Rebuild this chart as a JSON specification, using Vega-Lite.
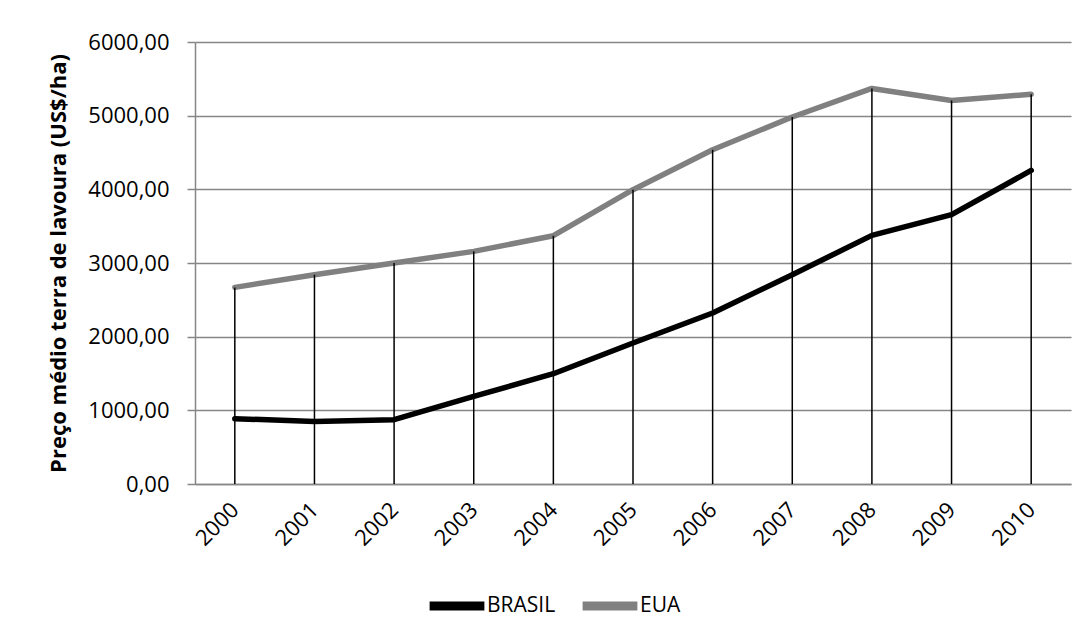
{
  "$schema": "https://vega.github.io/schema/vega-lite/v6.json",
  "width": 876,
  "height": 442,
  "autosize": "none",
  "padding": {"left": 195, "top": 42, "right": 21, "bottom": 152},
  "background": "white",
  "data": {
    "values": [
      {"year": "2000", "series": "BRASIL", "value": 886},
      {"year": "2001", "series": "BRASIL", "value": 850},
      {"year": "2002", "series": "BRASIL", "value": 873},
      {"year": "2003", "series": "BRASIL", "value": 1189},
      {"year": "2004", "series": "BRASIL", "value": 1497},
      {"year": "2005", "series": "BRASIL", "value": 1914},
      {"year": "2006", "series": "BRASIL", "value": 2321},
      {"year": "2007", "series": "BRASIL", "value": 2841},
      {"year": "2008", "series": "BRASIL", "value": 3375},
      {"year": "2009", "series": "BRASIL", "value": 3656},
      {"year": "2010", "series": "BRASIL", "value": 4257},
      {"year": "2000", "series": "EUA", "value": 2669},
      {"year": "2001", "series": "EUA", "value": 2841},
      {"year": "2002", "series": "EUA", "value": 3000},
      {"year": "2003", "series": "EUA", "value": 3158},
      {"year": "2004", "series": "EUA", "value": 3370},
      {"year": "2005", "series": "EUA", "value": 3995},
      {"year": "2006", "series": "EUA", "value": 4538},
      {"year": "2007", "series": "EUA", "value": 4982},
      {"year": "2008", "series": "EUA", "value": 5370},
      {"year": "2009", "series": "EUA", "value": 5207},
      {"year": "2010", "series": "EUA", "value": 5290}
    ]
  },
  "encoding": {
    "x": {
      "field": "year",
      "type": "ordinal",
      "scale": {"type": "point", "padding": 0.5},
      "axis": {
        "title": null,
        "labelAngle": -45,
        "labelFontSize": 22,
        "labelPadding": 22,
        "labelBaseline": "middle",
        "labelAlign": "right",
        "ticks": false,
        "grid": false,
        "domainColor": "#868686",
        "domainWidth": 1.5
      }
    }
  },
  "layer": [
    {
      "mark": {"type": "line", "strokeWidth": 5.5, "strokeCap": "round", "strokeJoin": "round"},
      "encoding": {
        "y": {
          "field": "value",
          "type": "quantitative",
          "scale": {"domain": [0, 6000], "nice": false},
          "axis": {
            "title": "Preço médio terra de lavoura (US$/ha)",
            "titleFontSize": 22,
            "titleFontWeight": "bold",
            "titlePadding": 17,
            "values": [0, 1000, 2000, 3000, 4000, 5000, 6000],
            "labelExpr": "replace(format(datum.value, '.2f'), '.', ',')",
            "labelFontSize": 22,
            "labelPadding": 18,
            "tickSize": 8,
            "tickColor": "#868686",
            "tickWidth": 1.5,
            "domainColor": "#868686",
            "domainWidth": 1.5,
            "grid": true,
            "gridColor": "#868686",
            "gridWidth": 1.5
          }
        },
        "color": {
          "field": "series",
          "type": "nominal",
          "scale": {"domain": ["BRASIL", "EUA"], "range": ["#000000", "#808080"]},
          "legend": {
            "title": null,
            "orient": "none",
            "direction": "horizontal",
            "legendX": 230,
            "legendY": 532,
            "symbolType": "stroke",
            "symbolStrokeWidth": 9,
            "symbolSize": 3000,
            "labelFontSize": 21,
            "labelOffset": -2,
            "columnPadding": 8
          }
        }
      }
    },
    {
      "mark": {"type": "rule", "color": "#000000", "strokeWidth": 1.5},
      "encoding": {
        "y": {"aggregate": "max", "field": "value", "type": "quantitative"},
        "y2": {"datum": 0}
      }
    }
  ],
  "config": {
    "view": {"stroke": null},
    "font": "Open Sans",
    "axis": {"labelColor": "#000000", "titleColor": "#000000", "labelFont": "Open Sans", "titleFont": "Open Sans"},
    "legend": {"labelColor": "#000000", "labelFont": "Open Sans"}
  }
}
